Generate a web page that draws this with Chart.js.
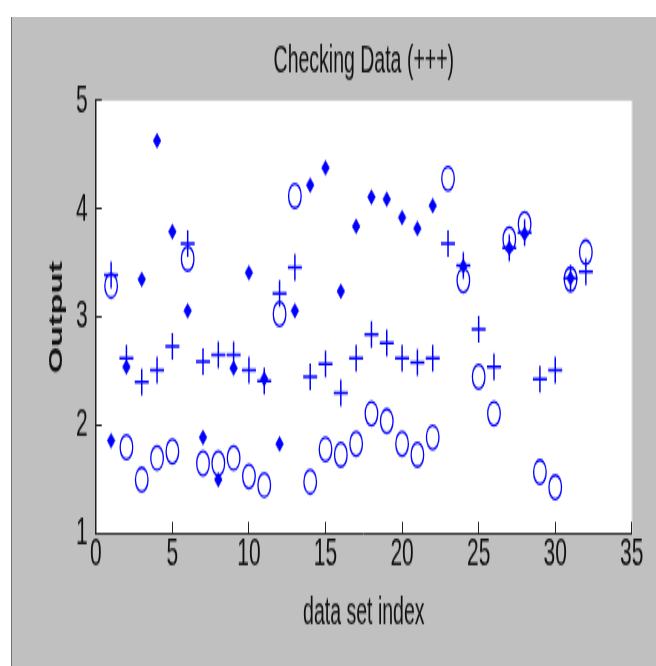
<!DOCTYPE html>
<html>
<head>
<meta charset="utf-8">
<script src="https://cdn.jsdelivr.net/npm/chart.js@4.4.1/dist/chart.umd.min.js"></script>
<style>
    html, body { margin: 0; padding: 0; background: #fff; }
    body { width: 656px; height: 666px; position: relative; overflow: hidden; }
    #fig {
        position: absolute; left: 11px; top: 17px; right: 0; bottom: 0;
        background: #c0c0c0; border-left: 1px solid #707070;
    }
    #chart { position: absolute; left: 0; top: 0; }
</style>
</head>
<body>
<div id="fig"></div>
<!-- drawn at 656x350 and stretched to 656x666, like the squashed screenshot -->
<canvas id="chart" width="656" height="350" style="width:656px;height:666px"></canvas>
<script>
/* ── Data ─────────────────────────────────────── */
const indexes = [1, 2, 3, 4, 5, 6, 7, 8, 9, 10, 11, 12, 13, 14, 15, 16,
    17, 18, 19, 20, 21, 22, 23, 24, 25, 26, 27, 28, 29, 30, 31, 32];

// circles: checking data
const checkData = [3.29, 1.80, 1.50, 1.70, 1.76, 3.54, 1.65, 1.65, 1.70, 1.53, 1.45, 3.03, 4.12, 1.48, 1.78, 1.73,
    1.83, 2.11, 2.04, 1.83, 1.73, 1.89, 4.28, 3.34, 2.45, 2.11, 3.72, 3.86, 1.57, 1.43, 3.35, 3.60];

// plus: model output
const fisOutput = [3.39, 2.62, 2.40, 2.51, 2.73, 3.68, 2.59, 2.65, 2.65, 2.51, 2.41, 3.22, 3.46, 2.45, 2.57, 2.30,
    2.62, 2.84, 2.76, 2.62, 2.58, 2.62, 3.68, 3.48, 2.89, 2.54, 3.64, 3.78, 2.43, 2.51, 3.36, 3.42];

// filled diamonds (only some visible after index 22)
const diamondData = [1.86, 2.54, 3.35, 4.63, 3.79, 3.06, 1.89, 1.50, 2.53, 3.41, 2.43, 1.83, 3.06, 4.22, 4.38, 3.24,
    3.84, 4.11, 4.09, 3.92, 3.82, 4.03, null, 3.47, null, null, 3.64, 3.77, null, null, 3.36, null];

const xTickValues = [0, 5, 10, 15, 20, 25, 30, 35];
const yTickValues = [1, 2, 3, 4, 5];

/* ── Helpers ──────────────────────────────────── */
const BLUE = '#0000ff';
const SANS = "'Liberation Sans', Arial, sans-serif";

const toPoints = (vals) => indexes
    .map((x, i) => ({ x, y: vals[i] }))
    .filter((p) => p.y !== null);

const plotBg = {
    id: 'plotBg',
    beforeDraw(chart) {
        const { ctx, chartArea: a } = chart;
        ctx.save();
        ctx.fillStyle = '#fff';
        ctx.fillRect(a.left, a.top, a.right - a.left, a.bottom - a.top);
        ctx.strokeStyle = '#d6d6d6';
        ctx.lineWidth = 1;
        ctx.beginPath();
        ctx.moveTo(a.right + 0.5, a.top);
        ctx.lineTo(a.right + 0.5, a.bottom);
        ctx.stroke();
        ctx.restore();
    },
};

/* ── Chart ────────────────────────────────────── */
new Chart(document.getElementById('chart'), {
    type: 'scatter',
    data: {
        datasets: [
            {
                label: 'checking data',
                data: toPoints(checkData),
                pointStyle: 'circle',
                pointRadius: 6.3,
                pointBorderWidth: 1.3,
                borderColor: BLUE,
                backgroundColor: 'rgba(0,0,0,0)',
            },
            {
                label: 'output',
                data: toPoints(fisOutput),
                pointStyle: 'cross',
                pointRadius: 7,
                pointBorderWidth: 1.5,
                borderColor: BLUE,
                backgroundColor: BLUE,
            },
            {
                label: 'diamonds',
                data: toPoints(diamondData),
                pointStyle: 'rectRot',
                pointRadius: 3.9,
                pointBorderWidth: 0.5,
                borderColor: BLUE,
                backgroundColor: BLUE,
            },
        ],
    },
    options: {
        responsive: false,
        animation: false,
        events: [],
        layout: {
            padding: { left: 0, right: 24.2, top: 0, bottom: 0 },
        },
        plugins: {
            legend: { display: false },
            tooltip: { enabled: false },
            title: {
                display: true,
                fullSize: false,
                text: 'Checking Data (+++)',
                color: '#111',
                font: { family: SANS, size: 19.5, weight: 'normal', lineHeight: 1.2 },
                padding: { top: 20.7, bottom: 8.8 },
            },
        },
        scales: {
            x: {
                type: 'linear',
                min: 0,
                max: 35,
                afterFit: (s) => { s.height = 69.5; },
                afterBuildTicks: (s) => { s.ticks = xTickValues.map((v) => ({ value: v })); },
                ticks: {
                    color: '#111',
                    padding: 6.3,
                    maxRotation: 0,
                    font: { family: SANS, size: 21, lineHeight: 1 },
                },
                grid: {
                    drawOnChartArea: false,
                    drawTicks: true,
                    tickLength: -6.3,
                    color: '#222',
                },
                border: { color: '#222', width: 1 },
                title: {
                    display: true,
                    text: 'data set index',
                    color: '#111',
                    font: { family: SANS, size: 19.5, lineHeight: 1.2 },
                    padding: { top: 0, bottom: 15.3 },
                },
            },
            y: {
                min: 1,
                max: 5,
                afterFit: (s) => { s.width = 95.8; },
                afterBuildTicks: (s) => { s.ticks = yTickValues.map((v) => ({ value: v })); },
                ticks: {
                    color: '#111',
                    padding: 14,
                    font: { family: SANS, size: 21, lineHeight: 1 },
                },
                grid: {
                    drawOnChartArea: false,
                    drawTicks: true,
                    tickLength: -6,
                    color: '#222',
                },
                border: { color: '#222', width: 1.5 },
                title: {
                    display: true,
                    text: 'Output',
                    color: '#111',
                    font: { family: SANS, size: 18, weight: 'bold', lineHeight: 1.2 },
                    padding: { top: 46, bottom: 0 },
                },
            },
        },
    },
    plugins: [plotBg],
});
</script>
</body>
</html>
